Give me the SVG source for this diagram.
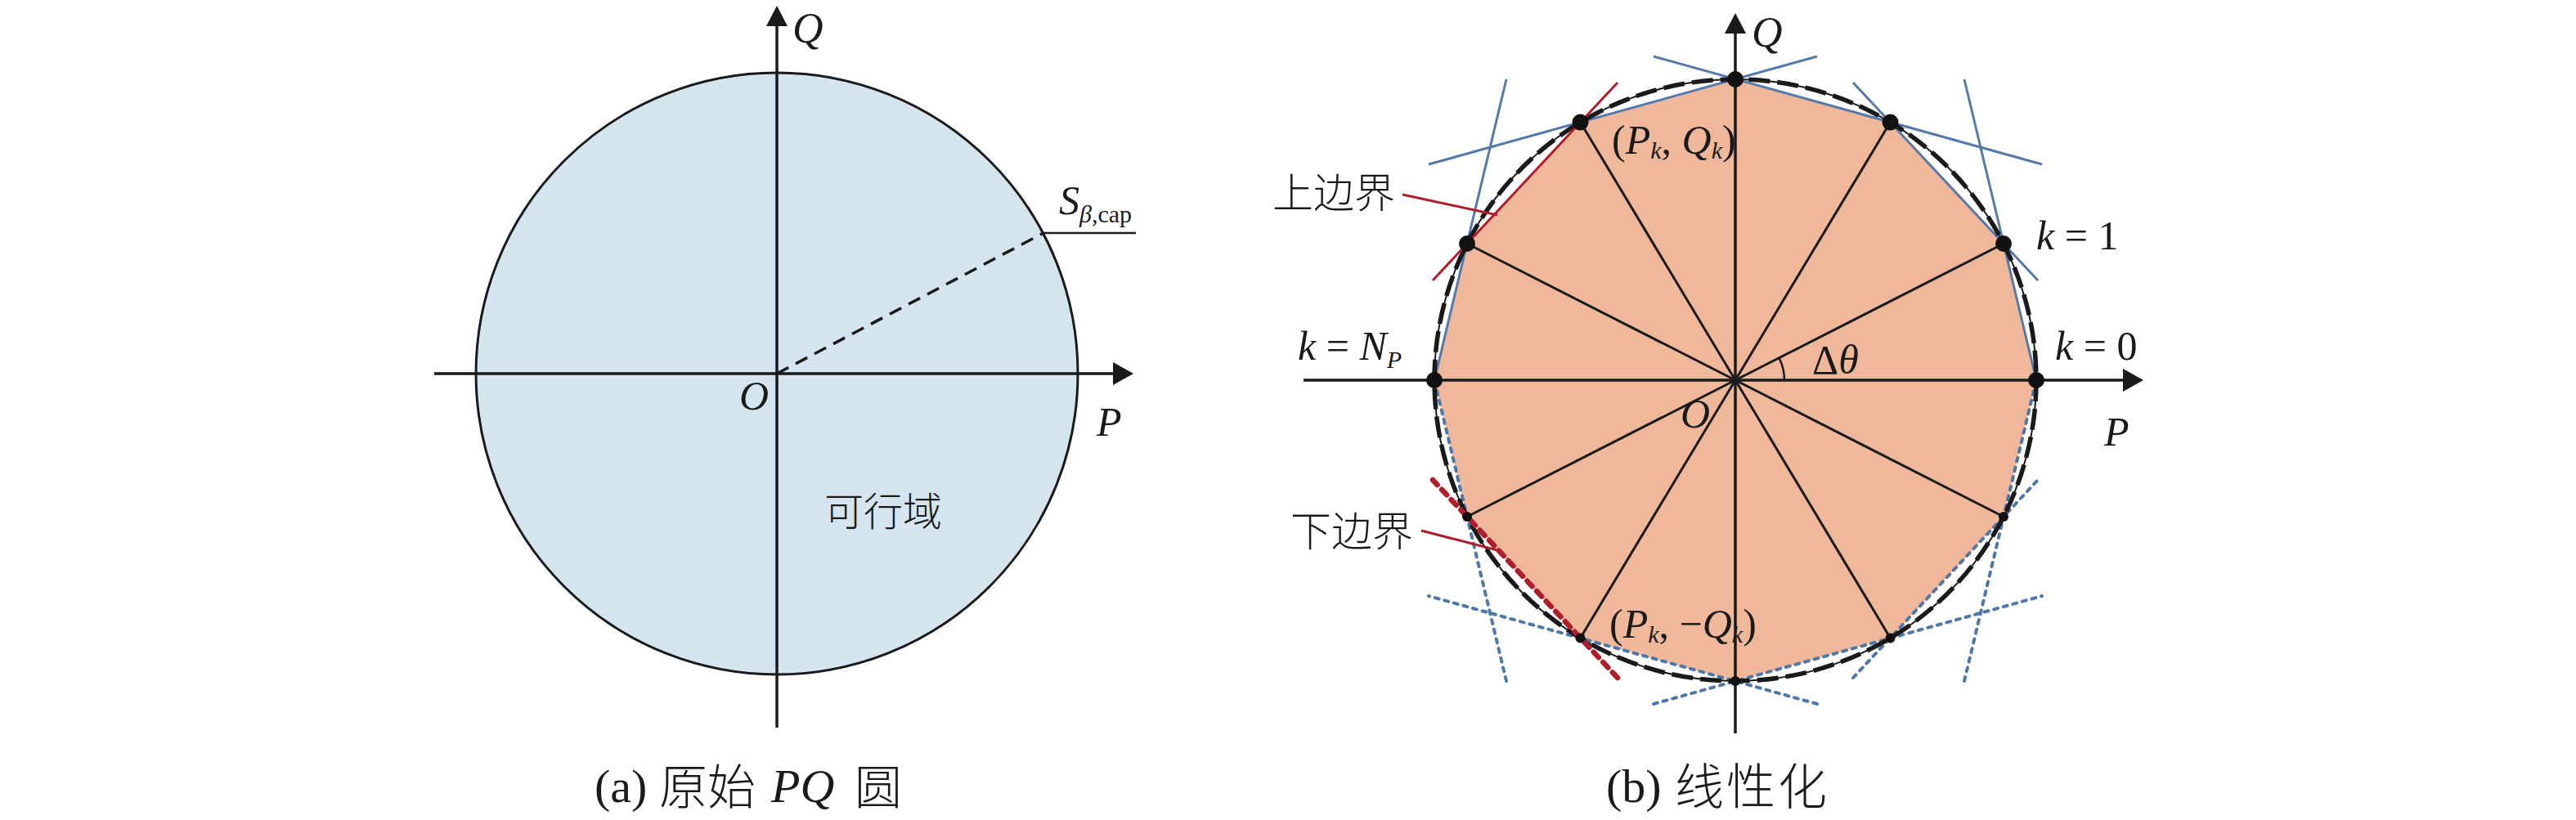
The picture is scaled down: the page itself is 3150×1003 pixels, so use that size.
<svg xmlns="http://www.w3.org/2000/svg" width="3150" height="1003" viewBox="0 0 3150 1003">
<style>
.bg{fill:#ffffff}
.ax{stroke:#1a1a1a;stroke-width:3.5;fill:none}
.ah{fill:#1a1a1a}
.it{font-family:"Liberation Serif","Times New Roman",serif;font-style:italic;fill:#1a1a1a}
.rm{font-family:"Liberation Serif","Times New Roman",serif;font-style:normal;fill:#1a1a1a}
.cjk{font-family:"Noto Sans CJK SC","Noto Sans",sans-serif;font-weight:300;fill:#1a1a1a}
.spoke{stroke:#1a1a1a;stroke-width:3;fill:none}
.blu{stroke:#5479aa;stroke-width:3;fill:none}
.bdot{stroke:#4f78a8;stroke-width:4;fill:none;stroke-dasharray:5 7;stroke-linecap:round}
.red{stroke:#b01e2c;stroke-width:3;fill:none}
.rdot{stroke:#b01e2c;stroke-width:6.5;fill:none;stroke-dasharray:9 8;stroke-linecap:round}
.dot{fill:#111111}
</style>
<rect class="bg" x="0" y="0" width="3150" height="1003"/>

<!-- ===== (a) original PQ circle ===== -->
<g id="plotA">
  <g id="a-circle">
    <circle cx="950" cy="457" r="368" fill="#d5e5f0" stroke="#1a1a1a" stroke-width="3"/>
  </g>
  <g id="a-axes">
    <line class="ax" x1="531" y1="457" x2="1365" y2="457"/>
    <polygon class="ah" points="1386,457 1361,443 1361,471"/>
    <line class="ax" x1="950" y1="890" x2="950" y2="28"/>
    <polygon class="ah" points="950,7 937,32 963,32"/>
  </g>
  <g id="a-radius">
    <line x1="950" y1="457" x2="1276" y2="285" stroke="#1a1a1a" stroke-width="3.5" stroke-dasharray="16 10"/>
    <line x1="1276" y1="285" x2="1389" y2="285" stroke="#1a1a1a" stroke-width="2.5"/>
  </g>
  <g id="a-labels">
    <text class="it" x="969" y="52" font-size="52">Q</text>
    <text class="it" x="1341" y="533" font-size="50">P</text>
    <text class="it" x="904" y="501" font-size="50">O</text>
    <text x="1295" y="262" font-size="50"><tspan class="it">S</tspan><tspan class="it" font-size="30" dy="10">β</tspan><tspan class="rm" font-size="30">,cap</tspan></text>
    <text class="cjk" x="1008" y="643" font-size="48">可行域</text>
  </g>
  <g id="a-caption">
    <text class="rm" x="727" y="981" font-size="58">(a)</text>
    <text class="cjk" x="806" y="984" font-size="59">原始</text>
    <text class="it" x="943" y="981" font-size="58">PQ</text>
    <text class="cjk" x="1045" y="984" font-size="58">圆</text>
  </g>
</g>

<!-- ===== (b) linearization ===== -->
<g id="plotB">
  <g id="b-polygon">
    <polygon fill="#f0b89b" points="2490,465 2450,298 2311.5,149.6 2122,97 1932.5,149.6 1794,298 1754,465 1794,632 1932.5,780.4 2122,833 2311.5,780.4 2450,632"/>
  </g>
  <g id="b-spokes">
    <line class="spoke" x1="2122" y1="465" x2="2450" y2="298"/>
    <line class="spoke" x1="2122" y1="465" x2="2311.5" y2="149.6"/>
    <line class="spoke" x1="2122" y1="465" x2="1932.5" y2="149.6"/>
    <line class="spoke" x1="2122" y1="465" x2="1794" y2="298"/>
    <line class="spoke" x1="2122" y1="465" x2="1794" y2="632"/>
    <line class="spoke" x1="2122" y1="465" x2="1932.5" y2="780.4"/>
    <line class="spoke" x1="2122" y1="465" x2="2311.5" y2="780.4"/>
    <line class="spoke" x1="2122" y1="465" x2="2450" y2="632"/>
  </g>
  <g id="b-axes">
    <line class="ax" x1="1594" y1="465" x2="2600" y2="465"/>
    <polygon class="ah" points="2621,465 2596,451 2596,479"/>
    <line class="ax" x1="2122" y1="897" x2="2122" y2="38"/>
    <polygon class="ah" points="2122,16 2109,41 2135,41"/>
    <path d="M2182,465 A60,60 0 0 0 2175.5,437.8" fill="none" stroke="#1a1a1a" stroke-width="2.5"/>
  </g>
  <g id="b-upper-bounds">
    <line class="blu" x1="2402" y1="97" x2="2490" y2="465"/>
    <line class="blu" x1="2266" y1="101" x2="2492" y2="343"/>
    <line class="blu" x1="2022" y1="69" x2="2497" y2="201"/>
    <line class="blu" x1="2222" y1="69" x2="1747" y2="201"/>
    <line class="blu" x1="1842" y1="97" x2="1754" y2="465"/>
  </g>
  <g id="b-lower-bounds">
    <line class="bdot" x1="2402" y1="833" x2="2490" y2="465"/>
    <line class="bdot" x1="2266" y1="829" x2="2492" y2="587"/>
    <line class="bdot" x1="2022" y1="861" x2="2497" y2="729"/>
    <line class="bdot" x1="2222" y1="861" x2="1747" y2="729"/>
    <line class="bdot" x1="1842" y1="833" x2="1754" y2="465"/>
  </g>
  <g id="b-circle">
    <circle cx="2122" cy="465" r="368" fill="none" stroke="#1a1a1a" stroke-width="2"/>
    <circle cx="2122" cy="465" r="368" fill="none" stroke="#1a1a1a" stroke-width="5.5" stroke-dasharray="26 9"/>
  </g>
  <g id="b-highlight">
    <line class="red" x1="1978" y1="101" x2="1752" y2="343"/>
    <line class="rdot" x1="1978" y1="829" x2="1752" y2="587"/>
  </g>
  <g id="b-points">
    <circle class="dot" cx="2490" cy="465" r="10"/>
    <circle class="dot" cx="2450" cy="298" r="10"/>
    <circle class="dot" cx="2311.5" cy="149.6" r="10"/>
    <circle class="dot" cx="2122" cy="97" r="10"/>
    <circle class="dot" cx="1932.5" cy="149.6" r="10"/>
    <circle class="dot" cx="1794" cy="298" r="10"/>
    <circle class="dot" cx="1754" cy="465" r="10"/>
    <circle class="dot" cx="1794" cy="632" r="6"/>
    <circle class="dot" cx="1932.5" cy="780.4" r="6"/>
    <circle class="dot" cx="2122" cy="833" r="6"/>
    <circle class="dot" cx="2311.5" cy="780.4" r="6"/>
    <circle class="dot" cx="2450" cy="632" r="6"/>
  </g>
  <g id="b-leaders">
    <line class="red" x1="1715" y1="238" x2="1831" y2="263"/>
    <line class="red" x1="1738" y1="649" x2="1831" y2="673"/>
  </g>
  <g id="b-labels">
    <text class="it" x="2142" y="57" font-size="52">Q</text>
    <text class="it" x="2573" y="545" font-size="50">P</text>
    <text class="it" x="2055" y="523" font-size="50">O</text>
    <text x="2216" y="457" font-size="50"><tspan class="rm">Δ</tspan><tspan class="it">θ</tspan></text>
    <text x="2490" y="305" font-size="50"><tspan class="it">k</tspan><tspan class="rm"> = 1</tspan></text>
    <text x="2513" y="440" font-size="50"><tspan class="it">k</tspan><tspan class="rm"> = 0</tspan></text>
    <text x="1587" y="440" font-size="50"><tspan class="it">k</tspan><tspan class="rm"> = </tspan><tspan class="it">N</tspan><tspan class="it" font-size="30" dy="10">P</tspan></text>
    <text x="1971" y="188" font-size="50"><tspan class="rm">(</tspan><tspan class="it">P</tspan><tspan class="it" font-size="30" dy="6">k</tspan><tspan class="rm" dy="-6">, </tspan><tspan class="it">Q</tspan><tspan class="it" font-size="30" dy="6">k</tspan><tspan class="rm" dy="-6">)</tspan></text>
    <text x="1968" y="780" font-size="50"><tspan class="rm">(</tspan><tspan class="it">P</tspan><tspan class="it" font-size="30" dy="6">k</tspan><tspan class="rm" dy="-6">, −</tspan><tspan class="it">Q</tspan><tspan class="it" font-size="30" dy="6">k</tspan><tspan class="rm" dy="-6">)</tspan></text>
    <text class="cjk" x="1556" y="254" font-size="50">上边界</text>
    <text class="cjk" x="1578" y="668" font-size="50">下边界</text>
  </g>
  <g id="b-caption">
    <text class="rm" x="1964" y="981" font-size="58">(b)</text>
    <text class="cjk" x="2048" y="984" font-size="60" letter-spacing="3">线性化</text>
  </g>
</g>
</svg>
